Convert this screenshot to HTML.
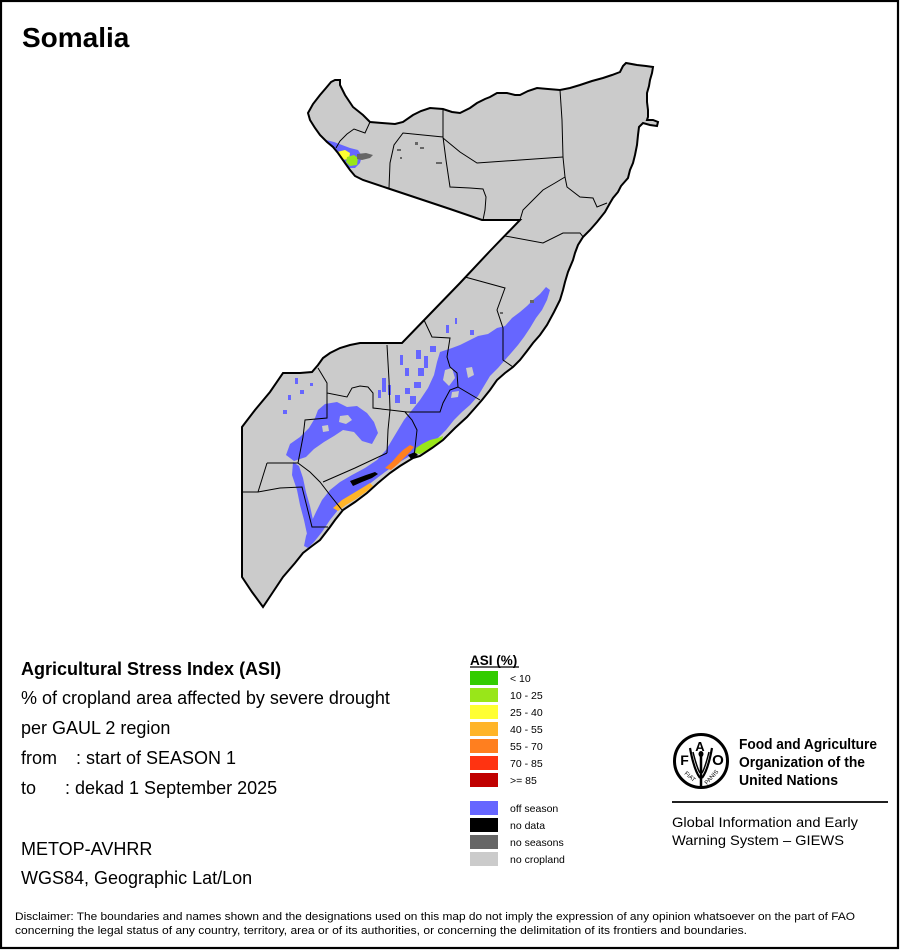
<!DOCTYPE html>
<html><head><meta charset="utf-8"><style>
html,body{margin:0;padding:0;background:#fff;}
svg{display:block;}
text{font-family:"Liberation Sans",Arial,sans-serif;}
</style></head><body>
<svg width="900" height="950" viewBox="0 0 900 950" xmlns="http://www.w3.org/2000/svg">
<defs>
<path id="cty" d="M308,113 L313,104 L320,95 L326,88 L331,82 L335,80 L340,80 L340,85 L345,95 L353,107 L363,115 L370,122 L382,123 L395,124 L403,122 L413,115 L421,111 L430,108 L443,109 L452,112 L460,113 L470,108 L477,103 L485,99 L490,97 L497,93 L507,93 L515,95 L520,95 L528,91 L537,88 L548,89 L560,90 L570,88 L580,85 L592,81 L603,78 L612,75 L620,72 L623,66 L626,63 L637,65 L646,66 L653,67 L652,73 L650,80 L649,86 L647,93 L647,102 L648,110 L648,117 L647,120 L653,120 L658,122 L657,126 L650,125 L643,123 L639,127 L638,135 L637,145 L635,155 L633,163 L630,170 L628,178 L621,186 L618,192 L613,198 L610,203 L605,212 L597,222 L590,230 L583,237 L578,245 L575,253 L573,260 L568,272 L565,282 L563,290 L560,300 L554,312 L547,325 L540,335 L533,343 L527,351 L520,360 L513,367 L505,373 L497,380 L490,390 L482,400 L475,408 L467,417 L455,428 L443,440 L432,448 L420,456 L413,458 L400,466 L390,473 L378,483 L367,493 L355,502 L343,510 L335,520 L330,527 L320,540 L312,546 L303,553 L295,563 L283,577 L273,592 L263,607 L252,592 L242,577 L242,427 L255,410 L270,392 L283,373 L300,373 L312,372 L318,365 L323,358 L330,353 L340,348 L350,345 L360,343 L375,343 L390,343 L402,343 L430,314 L460,283 L490,251 L520,220 L500,220 L482,220 L450,209 L420,199 L390,189 L363,180 L355,176 L350,170 L345,163 L338,153 L333,147 L327,142 L320,135 L315,128 L310,120 Z"/>
<clipPath id="cc"><use href="#cty"/></clipPath>
</defs>
<rect x="0" y="0" width="900" height="950" fill="#fff"/>
<rect x="1" y="1" width="897" height="947" fill="none" stroke="#000" stroke-width="2.2"/>

<text x="22" y="47" font-size="28" font-weight="bold">Somalia</text>

<!-- country -->
<use href="#cty" fill="#cbcbcb"/>

<g clip-path="url(#cc)">
<!-- off season -->
<g fill="#6666ff">
<path d="M440,352 L452,348 L460,345 L470,340 L478,336 L488,334 L497,328 L505,326 L512,318 L520,312 L527,306 L533,300 L540,294 L546,287 L550,290 L547,300 L542,310 L536,318 L530,328 L524,337 L518,345 L512,352 L505,360 L498,368 L490,376 L484,386 L478,396 L470,405 L462,412 L454,420 L446,430 L438,438 L428,445 L418,452 L410,456 L398,463 L385,472 L372,482 L360,491 L348,500 L338,510 L330,520 L322,532 L314,542 L308,548 L304,546 L306,536 L310,525 L316,512 L322,500 L330,490 L340,482 L352,475 L365,468 L377,460 L386,450 L392,440 L398,430 L404,420 L412,410 L420,400 L428,388 L434,375 L437,362 Z"/>
<path d="M318,410 L325,404 L337,402 L347,407 L357,406 L367,413 L374,422 L378,433 L372,444 L362,441 L354,432 L343,430 L334,436 L324,442 L314,449 L306,457 L294,461 L286,455 L290,444 L300,437 L309,428 L315,418 Z"/>
<path d="M293,462 L299,466 L303,478 L306,492 L310,506 L313,520 L315,532 L312,543 L308,546 L307,534 L304,520 L300,505 L297,490 L292,475 Z"/>
<path d="M326,140 L334,142 L342,145 L350,148 L358,150 L362,156 L360,163 L355,168 L348,168 L342,166 L336,160 L331,152 Z"/>
<rect x="382" y="378" width="4" height="14"/><rect x="388" y="385" width="3" height="10"/>
<rect x="378" y="390" width="3" height="8"/><rect x="295" y="378" width="3" height="6"/>
<rect x="300" y="390" width="4" height="4"/><rect x="288" y="395" width="3" height="5"/>
<rect x="310" y="383" width="3" height="3"/><rect x="283" y="410" width="4" height="4"/>
<rect x="400" y="355" width="3" height="10"/><rect x="405" y="368" width="4" height="8"/>
<rect x="395" y="395" width="5" height="8"/><rect x="446" y="325" width="3" height="8"/>
<rect x="455" y="318" width="2" height="6"/><rect x="470" y="330" width="4" height="5"/>
<rect x="405" y="388" width="5" height="6"/>
<rect x="416" y="350" width="5" height="9"/><rect x="424" y="356" width="4" height="12"/>
<rect x="418" y="368" width="6" height="8"/><rect x="430" y="346" width="6" height="6"/>
<rect x="414" y="382" width="7" height="6"/><rect x="410" y="396" width="6" height="8"/>
</g>
<!-- gray holes -->
<g fill="#cbcbcb">
<path d="M340,416 L348,415 L352,420 L346,424 L339,422 Z"/>
<path d="M322,426 L328,425 L329,431 L323,432 Z"/>
<path d="M445,370 L452,368 L455,378 L449,386 L443,380 Z"/>
<path d="M466,368 L472,367 L474,375 L468,378 Z"/>
<path d="M452,392 L459,391 L458,397 L451,398 Z"/>
<path d="M356,454 L364,452 L366,456 L358,458 Z"/>
</g>
<!-- ASI classes -->
<path d="M337,152 L345,150 L350,153 L349,159 L342,160 L337,157 Z" fill="#ffff33"/>
<path d="M347,157 L354,155 L358,158 L357,165 L350,166 L346,162 Z" fill="#99e619"/>
<path d="M357,154 L366,153 L373,155 L370,158 L362,160 L357,159 Z" fill="#666"/>
<path d="M333,508 L342,500 L352,494 L362,488 L370,483 L373,486 L366,492 L356,499 L346,505 L338,511 Z" fill="#ffb428"/>
<path d="M350,481 L358,478 L366,475 L375,472 L378,474 L372,478 L362,482 L353,486 Z" fill="#000"/>
<path d="M408,455 L415,452 L418,455 L411,459 Z" fill="#000"/>
<path d="M385,468 L392,462 L398,455 L403,450 L410,445 L414,447 L410,452 L404,458 L398,464 L391,470 Z" fill="#ff7f1f"/>
<path d="M416,448 L422,444 L430,440 L438,438 L443,436 L442,441 L436,446 L428,450 L420,454 L415,453 Z" fill="#99e619"/>
<g fill="#666">
<rect x="397" y="149" width="4" height="2"/><rect x="415" y="142" width="3" height="3"/>
<rect x="420" y="147" width="4" height="2"/><rect x="436" y="162" width="6" height="2"/>
<rect x="400" y="157" width="2" height="2"/><rect x="530" y="300" width="4" height="3"/>
<rect x="500" y="312" width="3" height="2"/>
</g>

<!-- internal boundaries -->
<g fill="none" stroke="#000" stroke-width="1">
<polyline points="370,122 365,133 354,129 347,134 340,141 336,148"/>
<polyline points="443,109 443,137 446,160 450,187 470,188 483,189 486,197 485,210 483,220"/>
<polyline points="443,137 403,133 394,145 390,163 389,188"/>
<polyline points="443,138 460,152 477,163 520,160 563,157"/>
<polyline points="560,90 562,120 563,157 565,177 567,187 580,197 593,198 597,207 607,203"/>
<polyline points="565,177 555,183 543,190 533,200 523,210 520,220"/>
<polyline points="505,236 543,243 563,233 580,233 588,243"/>
<polyline points="465,277 505,288 497,310 503,328 503,360 513,367"/>
<polyline points="424,320 432,337 450,338 447,357 450,367 457,373 458,387 480,400"/>
<polyline points="458,387 450,390 443,403 440,412 417,412 407,412 390,410 373,408 373,393 368,387 360,386 352,388 347,397 327,393 327,383 318,368"/>
<polyline points="387,345 389,380 390,410 388,430 387,453"/>
<polyline points="405,412 412,420 417,430 415,448 414,457"/>
<polyline points="323,482 355,468 387,453"/>
<polyline points="327,393 327,418 305,420 303,437 298,463"/>
<polyline points="267,463 298,463 310,472 320,482 330,495 342,510"/>
<polyline points="242,492 258,492 280,488 302,487 307,507 312,527 323,527 328,527"/>
<polyline points="267,463 258,492"/>
</g>
</g>
<use href="#cty" fill="none" stroke="#000" stroke-width="2"/>

<!-- left text -->
<g font-size="18">
<text x="21" y="675" font-weight="bold">Agricultural Stress Index (ASI)</text>
<text x="21" y="704">% of cropland area affected by severe drought</text>
<text x="21" y="734">per GAUL 2 region</text>
<text x="21" y="764">from</text><text x="76" y="764">: start of SEASON 1</text>
<text x="21" y="794">to</text><text x="65" y="794">: dekad 1 September 2025</text>
<text x="21" y="855">METOP-AVHRR</text>
<text x="21" y="884">WGS84, Geographic Lat/Lon</text>
</g>

<!-- legend -->
<text x="470" y="665" font-size="13.5" font-weight="bold">ASI (%)</text>
<line x1="470" y1="667" x2="519" y2="667" stroke="#000" stroke-width="1.2"/>
<g>
<rect x="470" y="671" width="28" height="14" fill="#33cc00"/>
<rect x="470" y="688" width="28" height="14" fill="#99e619"/>
<rect x="470" y="705" width="28" height="14" fill="#ffff33"/>
<rect x="470" y="722" width="28" height="14" fill="#ffb428"/>
<rect x="470" y="739" width="28" height="14" fill="#ff7f1f"/>
<rect x="470" y="756" width="28" height="14" fill="#ff3311"/>
<rect x="470" y="773" width="28" height="14" fill="#c00000"/>
<rect x="470" y="801" width="28" height="14" fill="#6666ff"/>
<rect x="470" y="818" width="28" height="14" fill="#000"/>
<rect x="470" y="835" width="28" height="14" fill="#666"/>
<rect x="470" y="852" width="28" height="14" fill="#cbcbcb"/>
</g>
<g font-size="10.5">
<text x="510" y="682">&lt; 10</text>
<text x="510" y="699">10 - 25</text>
<text x="510" y="716">25 - 40</text>
<text x="510" y="733">40 - 55</text>
<text x="510" y="750">55 - 70</text>
<text x="510" y="767">70 - 85</text>
<text x="510" y="784">&gt;= 85</text>
<text x="510" y="812">off season</text>
<text x="510" y="829">no data</text>
<text x="510" y="846">no seasons</text>
<text x="510" y="863">no cropland</text>
</g>

<!-- FAO logo -->
<g>
<circle cx="701" cy="761" r="26.5" fill="none" stroke="#000" stroke-width="3"/>
<text x="684.5" y="765" font-size="14" font-weight="bold" text-anchor="middle">F</text>
<text x="700" y="751" font-size="13" font-weight="bold" text-anchor="middle">A</text>
<text x="718" y="765" font-size="15" font-weight="bold" text-anchor="middle">O</text>
<path d="M690,748 Q694,770 700,778 M712,748 Q708,770 702,778" fill="none" stroke="#000" stroke-width="2.2"/>
<path d="M693,752 Q697,768 700,773 M709,752 Q705,768 702,773" fill="none" stroke="#000" stroke-width="1.5"/>
<line x1="701" y1="752" x2="701" y2="787" stroke="#000" stroke-width="2.5"/>
<ellipse cx="701" cy="754" rx="2.5" ry="3" fill="#000"/>
<text x="0" y="0" font-size="6" transform="translate(684,774) rotate(40)">FIAT</text>
<text x="0" y="0" font-size="6" transform="translate(707,785) rotate(-48)">PANIS</text>
</g>
<text x="739" y="749" font-size="14.5" font-weight="bold" textLength="138" lengthAdjust="spacingAndGlyphs">Food and Agriculture</text>
<text x="739" y="767" font-size="14.5" font-weight="bold" textLength="126" lengthAdjust="spacingAndGlyphs">Organization of the</text>
<text x="739" y="785" font-size="14.5" font-weight="bold" textLength="99" lengthAdjust="spacingAndGlyphs">United Nations</text>
<line x1="672" y1="802" x2="888" y2="802" stroke="#000" stroke-width="1.8"/>
<text x="672" y="827" font-size="14" textLength="186" lengthAdjust="spacingAndGlyphs">Global Information and Early</text>
<text x="672" y="845" font-size="14" textLength="172" lengthAdjust="spacingAndGlyphs">Warning System – GIEWS</text>

<!-- disclaimer -->
<text x="15" y="920" font-size="11" textLength="840" lengthAdjust="spacingAndGlyphs">Disclaimer: The boundaries and names shown and the designations used on this map do not imply the expression of any opinion whatsoever on the part of FAO</text>
<text x="15" y="934" font-size="11" textLength="732" lengthAdjust="spacingAndGlyphs">concerning the legal status of any country, territory, area or of its authorities, or concerning the delimitation of its frontiers and boundaries.</text>
</svg>
</body></html>
